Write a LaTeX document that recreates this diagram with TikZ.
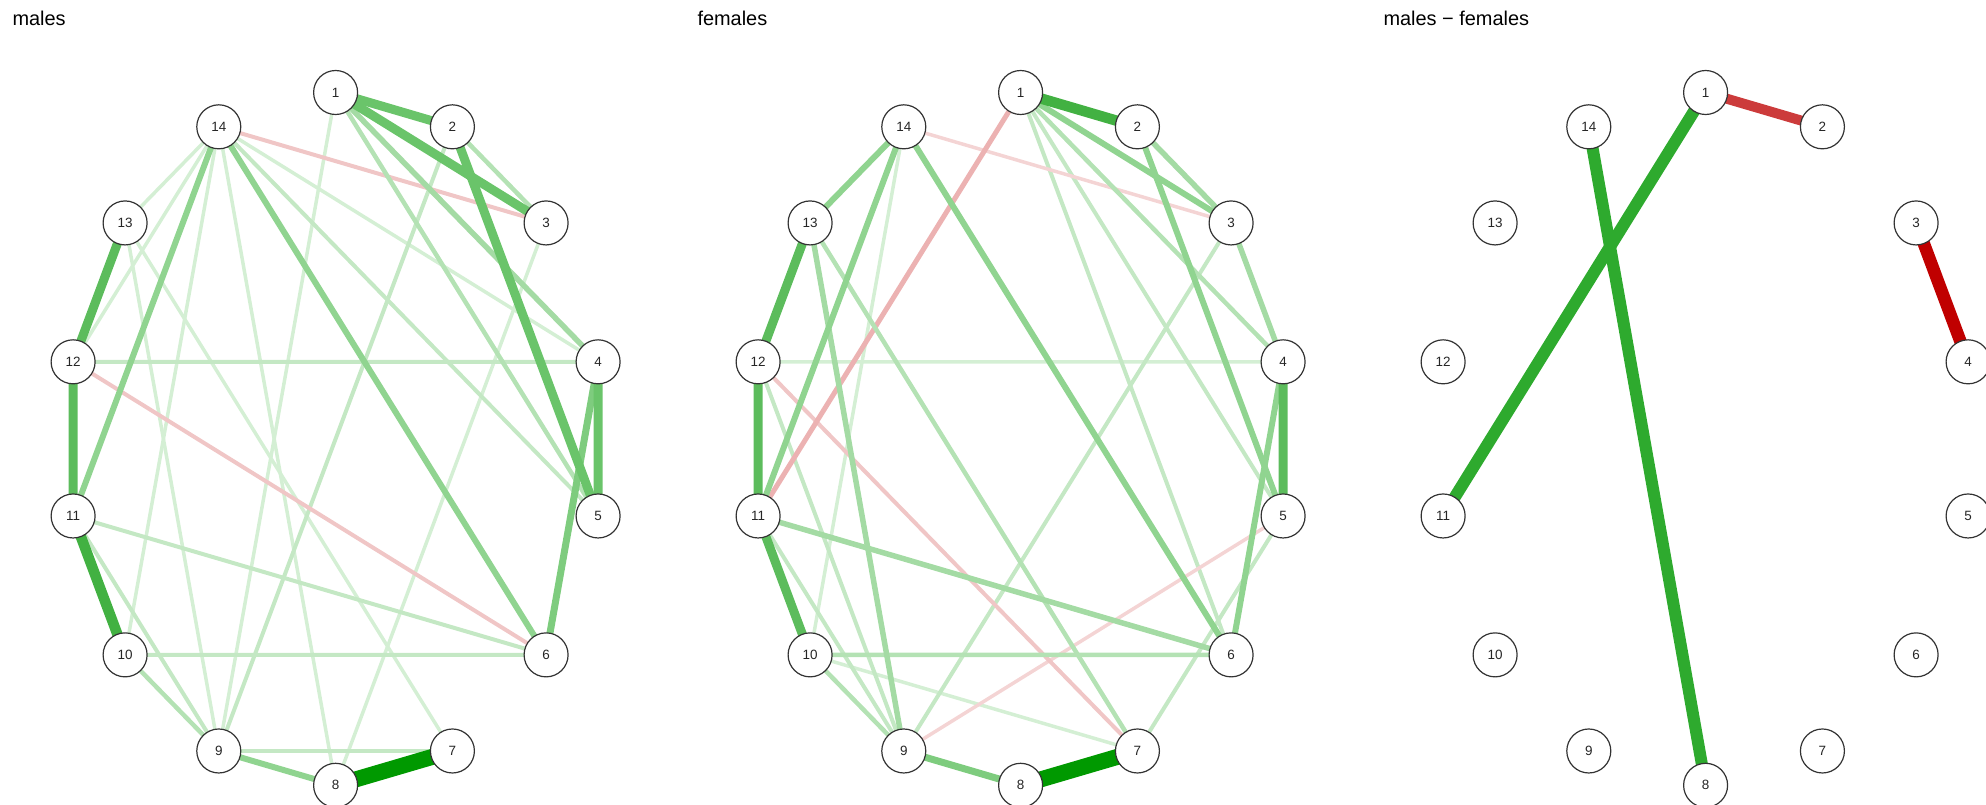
\documentclass[tikz,border=0pt]{standalone}
\usepackage{fontspec}
\setmainfont{Liberation Sans}
\pgfdeclarelayer{background}
\pgfsetlayers{background,main}
\definecolor{cA}{HTML}{009900}
\definecolor{cB}{HTML}{42B142}
\definecolor{cC}{HTML}{5CBC5C}
\definecolor{cD}{HTML}{6AC46A}
\definecolor{cE}{HTML}{7ECC7E}
\definecolor{cF}{HTML}{90D490}
\definecolor{cG}{HTML}{A4DBA4}
\definecolor{cH}{HTML}{B4E2B4}
\definecolor{cI}{HTML}{C4E8C4}
\definecolor{cJ}{HTML}{D4EFD4}
\definecolor{pA}{HTML}{ECB2B2}
\definecolor{pB}{HTML}{F0C6C6}
\definecolor{pC}{HTML}{F4D4D4}
\definecolor{dG}{HTML}{2EAA2E}
\definecolor{dR}{HTML}{CC3B3B}
\definecolor{dRR}{HTML}{C00000}
\newcommand\lnk[4]{\draw[#4] (#1#2.center) -- (#1#3.center);}
\begin{document}
\begin{tikzpicture}[x=1bp,y=-1bp,
  vtx/.style={circle, draw=black!80, line width=1.2bp, fill=white, minimum size=44bp, inner sep=0pt, font=\fontsize{13.5}{14}\selectfont, text=black!85},
  ttl/.style={anchor=base west, font=\fontsize{20}{22}\selectfont, text=black},
  edgeA/.style={draw=cA, line width=16bp},
  edgeB/.style={draw=cB, line width=10.5bp},
  edgeC/.style={draw=cC, line width=9bp},
  edgeD/.style={draw=cD, line width=9bp},
  edgeE/.style={draw=cE, line width=7bp},
  edgeF/.style={draw=cF, line width=6bp},
  edgeG/.style={draw=cG, line width=5.5bp},
  edgeH/.style={draw=cH, line width=4.5bp},
  edgeI/.style={draw=cI, line width=4bp},
  edgeJ/.style={draw=cJ, line width=3.5bp},
  pinkA/.style={draw=pA, line width=5bp},
  pinkB/.style={draw=pB, line width=4bp},
  pinkC/.style={draw=pC, line width=3.5bp},
  diffG/.style={draw=dG, line width=12bp},
  diffR/.style={draw=dR, line width=10bp},
  diffRR/.style={draw=dRR, line width=12.5bp}
]
\useasboundingbox (0,0) rectangle (1986,805);
\node[ttl] (tm) at (9,26) {males};
\node[ttl] (tf) at (694,26) {females};
\node[ttl] (td) at (1380,26) {males − females};
\foreach \p/\cx in {m/335.6, f/1020.6, d/1705.6} {
  \foreach \k in {1,...,14} {
    \pgfmathsetmacro\ang{90-(\k-1)*360/14}
    \node[vtx] (\p\k) at ({\cx+269.25*cos(\ang)}, {438.9-346.4*sin(\ang)}) {\k};
  }
}
\begin{pgfonlayer}{background}
% males
\lnk{m}{1}{9}{edgeJ}
\lnk{m}{3}{8}{edgeJ}
\lnk{m}{4}{14}{edgeJ}
\lnk{m}{7}{13}{edgeJ}
\lnk{m}{8}{14}{edgeJ}
\lnk{m}{9}{13}{edgeJ}
\lnk{m}{10}{14}{edgeJ}
\lnk{m}{12}{14}{edgeJ}
\lnk{m}{13}{14}{edgeJ}
\lnk{m}{2}{9}{edgeI}
\lnk{m}{4}{12}{edgeI}
\lnk{m}{5}{14}{edgeI}
\lnk{m}{6}{10}{edgeI}
\lnk{m}{6}{11}{edgeI}
\lnk{m}{7}{9}{edgeI}
\lnk{m}{9}{11}{edgeI}
\lnk{m}{3}{14}{pinkB}
\lnk{m}{6}{12}{pinkB}
\lnk{m}{1}{5}{edgeH}
\lnk{m}{2}{3}{edgeH}
\lnk{m}{9}{10}{edgeH}
\lnk{m}{1}{4}{edgeG}
\lnk{m}{6}{14}{edgeF}
\lnk{m}{8}{9}{edgeF}
\lnk{m}{11}{14}{edgeF}
\lnk{m}{4}{6}{edgeE}
\lnk{m}{1}{2}{edgeD}
\lnk{m}{1}{3}{edgeD}
\lnk{m}{2}{5}{edgeD}
\lnk{m}{4}{5}{edgeD}
\lnk{m}{11}{12}{edgeC}
\lnk{m}{12}{13}{edgeC}
\lnk{m}{10}{11}{edgeB}
\lnk{m}{7}{8}{edgeA}
% females
\lnk{f}{4}{12}{edgeJ}
\lnk{f}{7}{10}{edgeJ}
\lnk{f}{10}{14}{edgeJ}
\lnk{f}{1}{5}{edgeI}
\lnk{f}{1}{6}{edgeI}
\lnk{f}{3}{9}{edgeI}
\lnk{f}{5}{7}{edgeI}
\lnk{f}{9}{11}{edgeI}
\lnk{f}{9}{12}{edgeI}
\lnk{f}{3}{14}{pinkC}
\lnk{f}{5}{9}{pinkC}
\lnk{f}{7}{12}{pinkB}
\lnk{f}{1}{11}{pinkA}
\lnk{f}{1}{4}{edgeH}
\lnk{f}{6}{10}{edgeH}
\lnk{f}{7}{13}{edgeH}
\lnk{f}{9}{10}{edgeH}
\lnk{f}{2}{3}{edgeG}
\lnk{f}{3}{4}{edgeG}
\lnk{f}{6}{11}{edgeG}
\lnk{f}{9}{13}{edgeG}
\lnk{f}{1}{3}{edgeF}
\lnk{f}{2}{5}{edgeF}
\lnk{f}{4}{6}{edgeF}
\lnk{f}{6}{14}{edgeF}
\lnk{f}{11}{14}{edgeF}
\lnk{f}{13}{14}{edgeF}
\lnk{f}{8}{9}{edgeE}
\lnk{f}{4}{5}{edgeC}
\lnk{f}{10}{11}{edgeC}
\lnk{f}{11}{12}{edgeC}
\lnk{f}{12}{13}{edgeC}
\lnk{f}{1}{2}{edgeB}
\lnk{f}{7}{8}{edgeA}
% difference
\lnk{d}{1}{2}{diffR}
\lnk{d}{3}{4}{diffRR}
\lnk{d}{1}{11}{diffG}
\lnk{d}{14}{8}{diffG}
\end{pgfonlayer}
\end{tikzpicture}
\end{document}
